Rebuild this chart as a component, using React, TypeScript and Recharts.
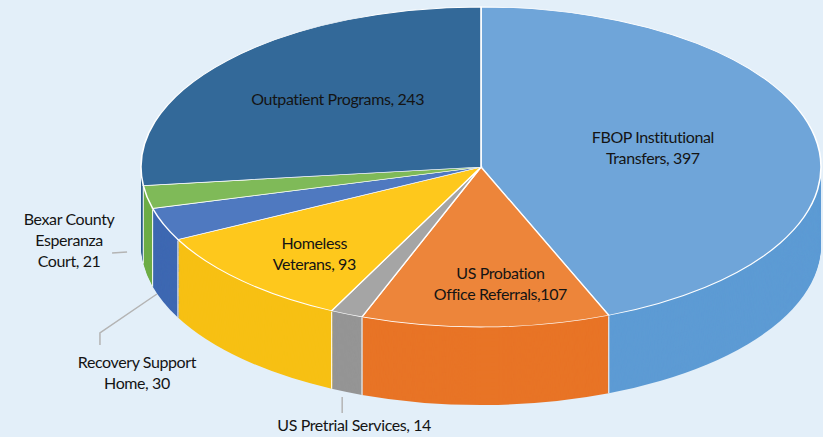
import React from 'react';
import { PieChart, Pie, Cell } from 'recharts';

// ---- data ----
const categories = [
  'FBOP Institutional Transfers',
  'US Probation Office Referrals',
  'US Pretrial Services',
  'Homeless Veterans',
  'Recovery Support Home',
  'Bexar County Esperanza Court',
  'Outpatient Programs',
];
const values = [397, 107, 14, 93, 30, 21, 243];
const labelLines = [
  ['FBOP Institutional', 'Transfers, 397'],
  ['US Probation', 'Office Referrals,107'],
  ['US Pretrial Services, 14'],
  ['Homeless', 'Veterans, 93'],
  ['Recovery Support', 'Home, 30'],
  ['Bexar County', 'Esperanza', 'Court, 21'],
  ['Outpatient Programs, 243'],
];

// ---- styles ----
const topColors = ['#6fa5d9', '#ed853a', '#a5a5a5', '#fec81c', '#4f79c0', '#7fba58', '#336999'];
const sideColors = ['#5d9bd4', '#e87426', '#959595', '#f7c014', '#3e68b2', '#6ead47', '#2b5d8a'];
const BG = '#e3eff9';

// ---- geometry (screen px) ----
const W = 823;
const H = 437;
const RX = 340;
const RY = 160;
const K = RY / RX;
const CX = 481;
const CY_SCREEN = 167;
const DEPTH_SCREEN = 78;
const CY = CY_SCREEN / K;
const DEPTH = DEPTH_SCREEN / K;
const STEP = 2;

// label placement relative to the slice's mid-angle point (screen px)
const labelLayout = [
  { f: 0.515, dx: 0, dy: -5, lead: null },
  { f: 0.725, dx: 16, dy: 0, lead: null },
  { f: 1, dx: 7.5, dy: 110, lead: [[-4.5, 83], [-4.5, 99]] },
  { f: 0.72, dx: 5, dy: 3, lead: null },
  { f: 1, dx: -26.6, dy: 147.7, lead: [[-6.6, 69.7], [-63.6, 108.7], [-63.6, 120.7]] },
  { f: 1, dx: -78, dy: 42, lead: [[-20, 55], [-35, 56]] },
  { f: 0.6, dx: 9, dy: -5, lead: null },
];
const LINE_H = 21;
const FONT = 'Lato, "Open Sans", sans-serif';

const data = categories.map((name, i) => ({ name, value: values[i] }));

const layers: number[] = [];
for (let d = DEPTH; d > 0; d -= STEP) layers.push(d);

const RAD = Math.PI / 180;

const renderLabel = (p: any) => {
  const { cx, cy, midAngle, outerRadius, index, startAngle } = p;
  const L = labelLayout[index];
  const csy = cy * K;
  const pt = (a: number, f: number) => [
    cx + outerRadius * f * Math.cos(a * RAD),
    csy - outerRadius * f * Math.sin(a * RAD) * K,
  ];
  const [mx, my] = pt(midAngle, L.f);
  const ax = mx + L.dx;
  const ay = my + L.dy;
  const [rx0, ry0] = pt(midAngle, 1);
  const [sx, sy] = pt(startAngle, 1);
  const front = Math.sin(startAngle * RAD) < -0.01;
  const lines = labelLines[index];
  const y0 = ay - ((lines.length - 1) * LINE_H) / 2;
  return (
    <g transform={`scale(1, ${1 / K})`} key={`lbl-${index}`}>
      {front && (
        <line x1={sx} y1={sy + 1} x2={sx} y2={sy + DEPTH_SCREEN} stroke="#ffffff" strokeWidth={1} />
      )}
      {L.lead && (
        <polyline
          points={L.lead.map(([x, y]) => `${rx0 + x},${ry0 + y}`).join(' ')}
          fill="none"
          stroke="#b4b4b4"
          strokeWidth={1.5}
        />
      )}
      <text
        x={ax}
        y={y0}
        textAnchor="middle"
        dominantBaseline="central"
        fontFamily={FONT}
        fontSize={16}
        letterSpacing={-0.4}
        fill="#141414"
      >
        {lines.map((t, i) => (
          <tspan key={i} x={ax} y={y0 + i * LINE_H}>
            {t}
          </tspan>
        ))}
      </text>
    </g>
  );
};

export default function App() {
  return (
    <div
      style={{
        position: 'absolute',
        left: 0,
        top: 0,
        width: W,
        height: H,
        background: BG,
        overflow: 'hidden',
      }}
    >
      <div style={{ transform: `scaleY(${K})`, transformOrigin: '0 0', width: W, height: H / K }}>
        <PieChart width={W} height={H / K} margin={{ top: 0, right: 0, bottom: 0, left: 0 }}>
          {layers.map((d) => (
            <Pie
              key={`side-${d}`}
              data={data}
              dataKey="value"
              nameKey="name"
              cx={CX}
              cy={CY + d}
              outerRadius={RX}
              startAngle={90}
              endAngle={-270}
              stroke="none"
              isAnimationActive={false}
              labelLine={false}
            >
              {data.map((e, i) => (
                <Cell key={i} fill={sideColors[i]} stroke="none" />
              ))}
            </Pie>
          ))}
          <Pie
            data={data}
            dataKey="value"
            nameKey="name"
            cx={CX}
            cy={CY}
            outerRadius={RX}
            startAngle={90}
            endAngle={-270}
            stroke="#ffffff"
            strokeWidth={1.6}
            isAnimationActive={false}
            labelLine={false}
            label={renderLabel}
          >
            {data.map((e, i) => (
              <Cell key={i} fill={topColors[i]} />
            ))}
          </Pie>
        </PieChart>
      </div>
    </div>
  );
}
